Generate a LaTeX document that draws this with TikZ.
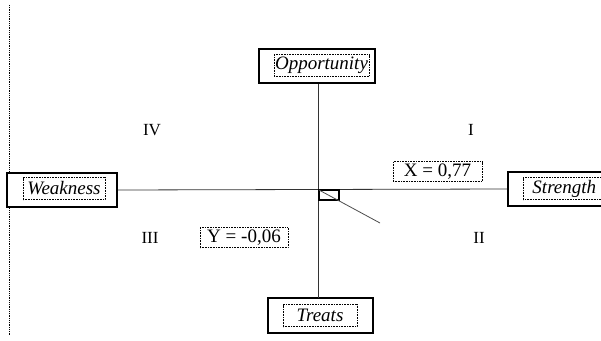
\documentclass[tikz,border=0pt]{standalone}
\usepackage{fontspec}
\setmainfont{Liberation Serif}
\begin{document}
\begin{tikzpicture}[x=1pt,y=-1pt,
  outerbox/.style={draw=black, line width=1.6pt, fill=white, inner sep=0pt, minimum height=34pt},
  innerbox/.style={draw=black, densely dotted, line width=0.6pt, inner sep=0pt, minimum height=22pt, font=\fontsize{19}{21}\selectfont\itshape},
  valbox/.style={draw=black, densely dotted, line width=0.6pt, inner sep=0pt, minimum height=20pt, font=\fontsize{19}{21}\selectfont},
  quad/.style={font=\fontsize{17}{19}\selectfont},
  axis/.style={line width=0.8pt, draw=black!80}]
\useasboundingbox (0,0) rectangle (601,340);
\clip (0,0) rectangle (601,340);
\draw[densely dotted, line width=0.8pt] (9,5) coordinate (ltop) -- (9,335) coordinate (lbot);
% boxes
\node[outerbox, minimum width=116pt] (opp) at (317,66) {};
\node[innerbox, minimum width=95pt] (oppt) at (321.5,65.5) {Opportunity};
\node[outerbox, minimum width=105pt, minimum height=35pt] (tr) at (320.5,315.5) {};
\node[innerbox, minimum width=74pt] (trt) at (320,315.5) {Treats};
\node[outerbox, minimum width=110pt] (wk) at (62,190) {};
\node[innerbox, minimum width=82pt] (wkt) at (64,188.5) {Weakness};
\node[outerbox, minimum width=104pt] (st) at (560,189) {};
\node[innerbox, minimum width=82pt, anchor=west] (stt) at (523,188.5) {Strength};
% axes
\draw[axis] (opp.south -| 318.5,0) -- (318.5,298) coordinate (vbot);
\draw[axis] (wk.east) -- (st.west);
% small rectangle and pointer
\coordinate (o) at (319,190);
\draw[line width=1.4pt] (o) rectangle (339,200);
\draw[line width=0.8pt, draw=black!70] (o) -- (380,223) coordinate (tip);
% values
\node[valbox, minimum width=89pt] (xv) at (437.5,171.5) {X = 0,77};
\node[valbox, minimum width=88pt] (yv) at (244,237.5) {Y = -0,06};
% quadrants
\node[quad] (q4) at (152,130) {IV};
\node[quad] (q1) at (471,130) {I};
\node[quad] (q3) at (150,238) {III};
\node[quad] (q2) at (479,238) {II};
\end{tikzpicture}
\end{document}
